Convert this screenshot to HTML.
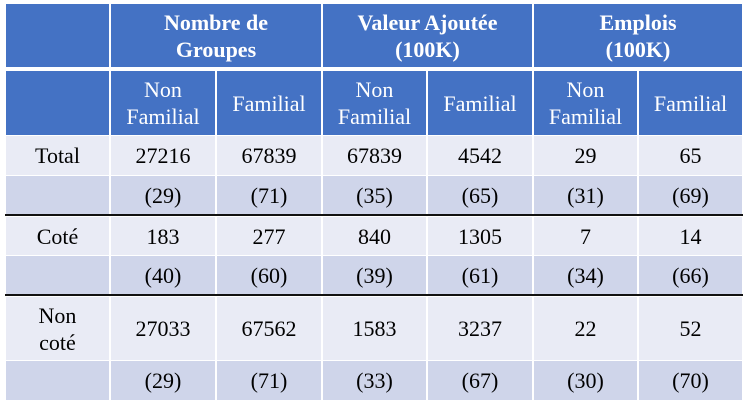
<!DOCTYPE html>
<html><head><style>
body{margin:0;width:750px;height:404px;background:#fff;position:relative;overflow:hidden;font-family:"Liberation Serif",serif;}
.c{position:absolute;display:flex;align-items:center;justify-content:center;text-align:center;box-sizing:border-box;color:#000;font-size:22px;line-height:27px;}
.h{background:#4472C4;color:#fff;}
.b{font-weight:bold;font-size:22px;}
.l{background:#E9EBF5;}
.d{background:#CFD5EA;}
.line{position:absolute;left:5px;width:738px;height:2px;background:#111;}
</style></head><body>
<script>
var xs=[5,110,216,322,427,533,638,743];
var rows=[[4,67],[71,135],[136,175],[176,214],[217,255],[256,294],[297,360],[361,400]];
function cell(x0,x1,y0,y1,cls,txt){var d=document.createElement('div');d.className='c '+cls;d.style.left=(x0+1)+'px';d.style.width=(x1-x0-2)+'px';d.style.top=y0+'px';d.style.height=(y1-y0)+'px';d.innerHTML=txt;document.body.appendChild(d);}
cell(xs[0],xs[1],rows[0][0],rows[0][1],'h','');
cell(xs[1],xs[3],rows[0][0],rows[0][1],'h b','Nombre de<br>Groupes');
cell(xs[3],xs[5],rows[0][0],rows[0][1],'h b','Valeur Ajoutée<br>(100K)');
cell(xs[5],xs[7],rows[0][0],rows[0][1],'h b','Emplois<br>(100K)');
var r2=['','Non<br>Familial','Familial','Non<br>Familial','Familial','Non<br>Familial','Familial'];
for(var i=0;i<7;i++)cell(xs[i],xs[i+1],rows[1][0],rows[1][1],'h',r2[i]);
var data=[
['Total','27216','67839','67839','4542','29','65'],
['','(29)','(71)','(35)','(65)','(31)','(69)'],
['Coté','183','277','840','1305','7','14'],
['','(40)','(60)','(39)','(61)','(34)','(66)'],
['Non<br>coté','27033','67562','1583','3237','22','52'],
['','(29)','(71)','(33)','(67)','(30)','(70)']];
for(var r=0;r<6;r++)for(var i=0;i<7;i++)cell(xs[i],xs[i+1],rows[r+2][0],rows[r+2][1],r%2?'d':'l',data[r][i]);
</script>
<div class="line" style="top:214px"></div>
<div class="line" style="top:294px"></div>
</body></html>
